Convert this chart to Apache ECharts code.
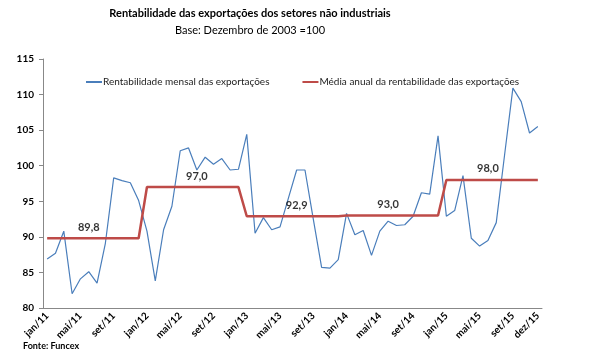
<!DOCTYPE html>
<html>
<head>
<meta charset="utf-8">
<script src="https://cdn.jsdelivr.net/npm/echarts@6/dist/echarts.min.js"></script>
<style>
html,body{margin:0;padding:0;background:#fff;}
#chart{width:590px;height:359px;}
</style>
</head>
<body>
<div id="chart"></div>
<script>
var monthNames = ['jan','fev','mar','abr','mai','jun','jul','ago','set','out','nov','dez'];
var years = ['11','12','13','14','15'];

// Rentabilidade mensal das exportações (jan/11 .. dez/15)
var monthly = [
  86.9, 87.7, 90.8, 82.0, 84.1, 85.1, 83.5, 89.1, 98.3, 97.9, 97.6, 95.1,
  90.8, 83.8, 91.0, 94.3, 102.1, 102.5, 99.4, 101.2, 100.2, 101.0, 99.4, 99.5,
  104.4, 90.5, 92.7, 91.0, 91.4, 95.4, 99.4, 99.4, 92.5, 85.7, 85.6, 86.8,
  93.3, 90.3, 90.9, 87.4, 90.8, 92.2, 91.6, 91.7, 92.9, 96.2, 96.0, 104.2,
  92.9, 93.7, 98.6, 89.8, 88.7, 89.5, 92.0, 101.5, 110.9, 109.0, 104.6, 105.5
];
// Média anual da rentabilidade das exportações
var annualAvg = [89.8, 97.0, 92.9, 93.0, 98.0];
var annualLabelIdx = [5, 18, 30, 41, 53];

var yTicks = {min: 80, max: 115, interval: 5};

var categories = [];
years.forEach(function(y){ monthNames.forEach(function(m){ categories.push(m + '/' + y); }); });

var avgMonthly = [];
annualAvg.forEach(function(v){ for (var k = 0; k < 12; k++) avgMonthly.push(v); });

var labelPts = annualLabelIdx.map(function(idx, i){ return [idx, annualAvg[i]]; });

var FONT = "Lato, 'Liberation Sans', sans-serif";

var chart = echarts.init(document.getElementById('chart'), null, {renderer: 'canvas'});
chart.setOption({
  backgroundColor: '#ffffff',
  animation: false,
  title: {
    text: 'Rentabilidade das exportações dos setores não industriais',
    subtext: 'Base: Dezembro de 2003 =100',
    left: 250, textAlign: 'center', top: 8, itemGap: 6, padding: 0,
    textStyle: {fontFamily: FONT, fontSize: 11, fontWeight: 'bold', color: '#000'},
    subtextStyle: {fontFamily: FONT, fontSize: 11, color: '#000'}
  },
  legend: {
    left: 86, top: 77, padding: 0, itemGap: 33, itemWidth: 16, itemHeight: 2,
    data: [
      {name: 'Rentabilidade mensal das exportações', icon: 'rect'},
      {name: 'Média anual da rentabilidade das exportações', icon: 'rect'}
    ],
    textStyle: {fontFamily: FONT, fontSize: 10, color: '#222', padding: [0,0,0,-4]}
  },
  grid: {left: 43, right: 48, top: 59, bottom: 51, containLabel: false},
  xAxis: {
    type: 'category', data: categories, boundaryGap: true,
    axisLine: {lineStyle: {color: '#888', width: 1}},
    axisTick: {interval: 3, length: 4, lineStyle: {color: '#888'}},
    axisLabel: {
      rotate: 45, margin: 6, hideOverlap: false,
      interval: function(i){ return i % 4 === 0 || i === 59; },
      fontFamily: FONT, fontSize: 10, fontWeight: 'bold', color: '#000'
    },
    splitLine: {show: false}
  },
  yAxis: {
    type: 'value', min: yTicks.min, max: yTicks.max, interval: yTicks.interval,
    axisLine: {show: true, lineStyle: {color: '#888', width: 1}},
    axisTick: {show: true, length: 4, lineStyle: {color: '#888'}},
    axisLabel: {fontFamily: FONT, fontSize: 10, fontWeight: 'bold', color: '#000', margin: 9},
    splitLine: {show: false}
  },
  series: [
    {
      name: 'Rentabilidade mensal das exportações', type: 'line', data: monthly,
      symbol: 'none', lineStyle: {color: '#4A7EBB', width: 1.2}, itemStyle: {color: '#4A7EBB'}, z: 2
    },
    {
      name: 'Média anual da rentabilidade das exportações', type: 'line', data: avgMonthly,
      symbol: 'none', lineStyle: {color: '#BE4B48', width: 2.5}, itemStyle: {color: '#BE4B48'}, z: 3
    },
    {
      name: 'labels', type: 'scatter', data: labelPts, symbolSize: 1, silent: true,
      itemStyle: {color: 'rgba(0,0,0,0)'},
      label: {
        show: true, position: 'top', distance: 5,
        formatter: function(p){ return p.value[1].toFixed(1).replace('.', ','); },
        fontFamily: FONT, fontSize: 11, fontWeight: 'bold', color: '#000'
      }
    }
  ],
  graphic: [{
    type: 'text', left: 23, top: 342,
    style: {text: 'Fonte: Funcex', fontFamily: FONT, fontSize: 9, fontWeight: 'bold', fill: '#000'}
  }]
});
</script>
</body>
</html>
